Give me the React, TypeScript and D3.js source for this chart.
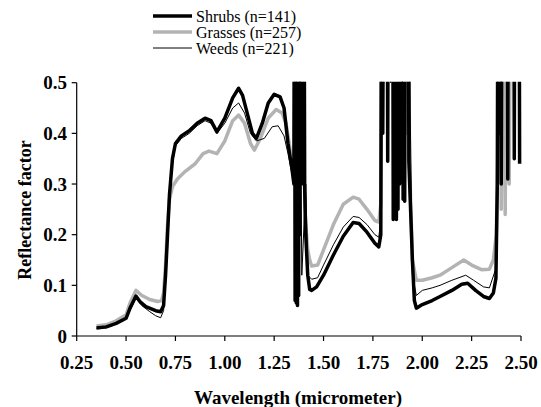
import React from "react";
import * as d3 from "d3";

type P = [number, number];

const xTicks = [0.25, 0.5, 0.75, 1.0, 1.25, 1.5, 1.75, 2.0, 2.25, 2.5];
const yTicks = [0, 0.1, 0.2, 0.3, 0.4, 0.5];
const seriesNames = ["Shrubs (n=141)", "Grasses (n=257)", "Weeds (n=221)"];

const shrubs: P[] = [
  [0.35, 0.016], [0.40, 0.018], [0.45, 0.025], [0.50, 0.035], [0.52, 0.055], [0.55, 0.079],
  [0.57, 0.068], [0.60, 0.058], [0.65, 0.05], [0.675, 0.048], [0.69, 0.06], [0.70, 0.12],
  [0.71, 0.2], [0.72, 0.28], [0.735, 0.35], [0.75, 0.38], [0.78, 0.395], [0.82, 0.405],
  [0.86, 0.42], [0.90, 0.43], [0.93, 0.425], [0.96, 0.403], [1.00, 0.43], [1.04, 0.47],
  [1.07, 0.489], [1.09, 0.475], [1.12, 0.43], [1.14, 0.4], [1.16, 0.39], [1.19, 0.42],
  [1.22, 0.46], [1.25, 0.477], [1.28, 0.472], [1.30, 0.45], [1.32, 0.38], [1.34, 0.33],
  [1.35, 0.30], [1.353, 0.9], [1.356, 0.07], [1.359, 0.9], [1.362, 0.065], [1.365, 0.9],
  [1.368, 0.06], [1.371, 0.9], [1.374, 0.08], [1.377, 0.9], [1.38, 0.2], [1.383, 0.9],
  [1.386, 0.3], [1.389, 0.9], [1.392, 0.32], [1.395, 0.9], [1.398, 0.3], [1.401, 0.9],
  [1.404, 0.3], [1.41, 0.2], [1.42, 0.12], [1.43, 0.092], [1.44, 0.09], [1.465, 0.097],
  [1.50, 0.12], [1.55, 0.16], [1.60, 0.197], [1.65, 0.224], [1.68, 0.222], [1.72, 0.205],
  [1.76, 0.183], [1.78, 0.176], [1.79, 0.2], [1.795, 0.9], [1.80, 0.4], [1.805, 0.9],
  [1.822, 0.9], [1.825, 0.345], [1.828, 0.9], [1.85, 0.9], [1.853, 0.23], [1.857, 0.9],
  [1.861, 0.24], [1.865, 0.9], [1.869, 0.23], [1.873, 0.9], [1.877, 0.25], [1.881, 0.9],
  [1.885, 0.3], [1.889, 0.9], [1.90, 0.9], [1.903, 0.27], [1.907, 0.9], [1.911, 0.266],
  [1.915, 0.9], [1.93, 0.9], [1.932, 0.345], [1.95, 0.15], [1.96, 0.07], [1.97, 0.055],
  [2.0, 0.062], [2.05, 0.07], [2.09, 0.078], [2.15, 0.09], [2.2, 0.102], [2.23, 0.104],
  [2.27, 0.09], [2.31, 0.078], [2.34, 0.074], [2.36, 0.085], [2.373, 0.114], [2.38, 0.3],
  [2.384, 0.9], [2.39, 0.4], [2.395, 0.9], [2.40, 0.3], [2.405, 0.9], [2.43, 0.9],
  [2.433, 0.31], [2.436, 0.9], [2.463, 0.9], [2.466, 0.35], [2.469, 0.9], [2.49, 0.9],
  [2.493, 0.34],
];

const grasses: P[] = [
  [0.35, 0.02], [0.40, 0.022], [0.45, 0.03], [0.50, 0.042], [0.52, 0.065], [0.55, 0.09],
  [0.58, 0.08], [0.62, 0.072], [0.66, 0.068], [0.68, 0.07], [0.69, 0.085], [0.70, 0.14],
  [0.71, 0.22], [0.72, 0.27], [0.735, 0.295], [0.76, 0.31], [0.80, 0.325], [0.85, 0.34],
  [0.89, 0.36], [0.92, 0.365], [0.96, 0.36], [1.00, 0.385], [1.04, 0.425], [1.07, 0.436],
  [1.10, 0.42], [1.13, 0.38], [1.15, 0.367], [1.18, 0.39], [1.22, 0.43], [1.26, 0.447],
  [1.29, 0.44], [1.31, 0.42], [1.33, 0.37], [1.35, 0.33], [1.36, 0.9], [1.37, 0.3],
  [1.38, 0.9], [1.39, 0.35], [1.40, 0.8], [1.405, 0.26], [1.41, 0.22], [1.42, 0.17],
  [1.43, 0.15], [1.44, 0.138], [1.47, 0.14], [1.50, 0.17], [1.55, 0.22], [1.60, 0.26],
  [1.65, 0.274], [1.68, 0.27], [1.72, 0.25], [1.76, 0.228], [1.78, 0.225], [1.79, 0.26],
  [1.795, 0.9], [1.80, 0.5], [1.81, 0.9], [1.84, 0.9], [1.85, 0.6], [1.88, 0.9],
  [1.89, 0.35], [1.90, 0.9], [1.92, 0.4], [1.93, 0.9], [1.935, 0.35], [1.95, 0.15],
  [1.97, 0.11], [2.0, 0.11], [2.05, 0.115], [2.09, 0.12], [2.15, 0.135], [2.21, 0.15],
  [2.25, 0.14], [2.30, 0.131], [2.34, 0.132], [2.36, 0.15], [2.375, 0.2], [2.385, 0.4],
  [2.39, 0.9], [2.40, 0.25], [2.41, 0.9], [2.42, 0.24], [2.43, 0.9], [2.44, 0.3],
  [2.45, 0.9],
];

const weeds: P[] = [
  [0.35, 0.015], [0.40, 0.016], [0.45, 0.024], [0.50, 0.035], [0.52, 0.05], [0.55, 0.075],
  [0.58, 0.06], [0.62, 0.048], [0.65, 0.04], [0.675, 0.036], [0.69, 0.05], [0.70, 0.12],
  [0.71, 0.2], [0.72, 0.28], [0.735, 0.34], [0.75, 0.375], [0.78, 0.39], [0.82, 0.4],
  [0.86, 0.415], [0.90, 0.425], [0.93, 0.42], [0.96, 0.4], [1.00, 0.42], [1.04, 0.45],
  [1.07, 0.46], [1.10, 0.44], [1.13, 0.4], [1.16, 0.385], [1.20, 0.39], [1.24, 0.413],
  [1.27, 0.415], [1.30, 0.395], [1.32, 0.36], [1.34, 0.32], [1.35, 0.30], [1.36, 0.7],
  [1.37, 0.1], [1.38, 0.6], [1.39, 0.12], [1.41, 0.3], [1.42, 0.12], [1.44, 0.112],
  [1.47, 0.115], [1.50, 0.14], [1.55, 0.18], [1.60, 0.215], [1.65, 0.236], [1.68, 0.234],
  [1.72, 0.22], [1.76, 0.2], [1.78, 0.195], [1.79, 0.23], [1.80, 0.8], [1.84, 0.5],
  [1.87, 0.9], [1.90, 0.5], [1.93, 0.7], [1.95, 0.12], [1.97, 0.08], [2.0, 0.09],
  [2.05, 0.095], [2.09, 0.1], [2.15, 0.11], [2.22, 0.12], [2.26, 0.11], [2.31, 0.097],
  [2.34, 0.095], [2.37, 0.13], [2.38, 0.35], [2.39, 0.9], [2.40, 0.5], [2.42, 0.9],
];

const W = 541;
const H = 407;
const left = 76.7;
const right = 521;
const top = 82.7;
const bottom = 336;

export default function App() {
  const x = d3.scaleLinear().domain([0.25, 2.5]).range([left, right]);
  const y = d3.scaleLinear().domain([0, 0.5]).range([bottom, top]);
  const line = d3
    .line<P>()
    .x((d) => x(d[0]))
    .y((d) => y(d[1]));

  const styles = [
    { data: shrubs, color: "#000", width: 3.5 },
    { data: grasses, color: "#b3b3b3", width: 3.5 },
    { data: weeds, color: "#000", width: 1 },
  ];
  const drawOrder = [1, 0, 2];

  const serif = "'Liberation Serif', 'Times New Roman', serif";

  return (
    <svg
      width={W}
      height={H}
      style={{ position: "absolute", left: 0, top: 0, background: "#fff" }}
    >
      <defs>
        <clipPath id="plotclip">
          <rect x={left - 2} y={top - 1} width={right - left + 10} height={bottom - top + 2} />
        </clipPath>
      </defs>

      {/* legend */}
      {seriesNames.map((name, i) => (
        <g key={name}>
          <line
            x1={153}
            x2={192}
            y1={16 + i * 16}
            y2={16 + i * 16}
            stroke={styles[i].color}
            strokeWidth={styles[i].width}
          />
          <text
            x={196}
            y={16 + i * 16}
            dy="0.35em"
            fontFamily={serif}
            fontSize={16}
            fill="#000"
          >
            {name}
          </text>
        </g>
      ))}

      {/* series */}
      <g clipPath="url(#plotclip)">
        {drawOrder.map((i) => (
          <path
            key={i}
            d={line(styles[i].data) || ""}
            fill="none"
            stroke={styles[i].color}
            strokeWidth={styles[i].width}
            strokeLinejoin="round"
          />
        ))}
      </g>

      {/* axes */}
      <line x1={left} x2={left} y1={top} y2={bottom} stroke="#000" strokeWidth={1.2} />
      <line x1={left} x2={right} y1={bottom} y2={bottom} stroke="#000" strokeWidth={1.2} />
      {yTicks.map((t) => (
        <g key={t}>
          <line x1={left - 5} x2={left} y1={y(t)} y2={y(t)} stroke="#000" strokeWidth={1.2} />
          <text
            x={67}
            y={y(t)}
            dy="0.35em"
            textAnchor="end"
            fontFamily={serif}
            fontWeight="bold"
            fontSize={19}
          >
            {t === 0 ? "0" : t.toFixed(1)}
          </text>
        </g>
      ))}
      {xTicks.map((t) => (
        <g key={t}>
          <line x1={x(t)} x2={x(t)} y1={bottom} y2={bottom + 5} stroke="#000" strokeWidth={1.2} />
          <text
            x={x(t)}
            y={368.5}
            textAnchor="middle"
            fontFamily={serif}
            fontWeight="bold"
            fontSize={19}
          >
            {t.toFixed(2)}
          </text>
        </g>
      ))}
      <text
        x={298}
        y={403.5}
        textAnchor="middle"
        fontFamily={serif}
        fontWeight="bold"
        fontSize={19}
      >
        Wavelength (micrometer)
      </text>
      <text
        transform={`translate(31, 210) rotate(-90)`}
        textAnchor="middle"
        fontFamily={serif}
        fontWeight="bold"
        fontSize={18}
      >
        Reflectance factor
      </text>
    </svg>
  );
}
